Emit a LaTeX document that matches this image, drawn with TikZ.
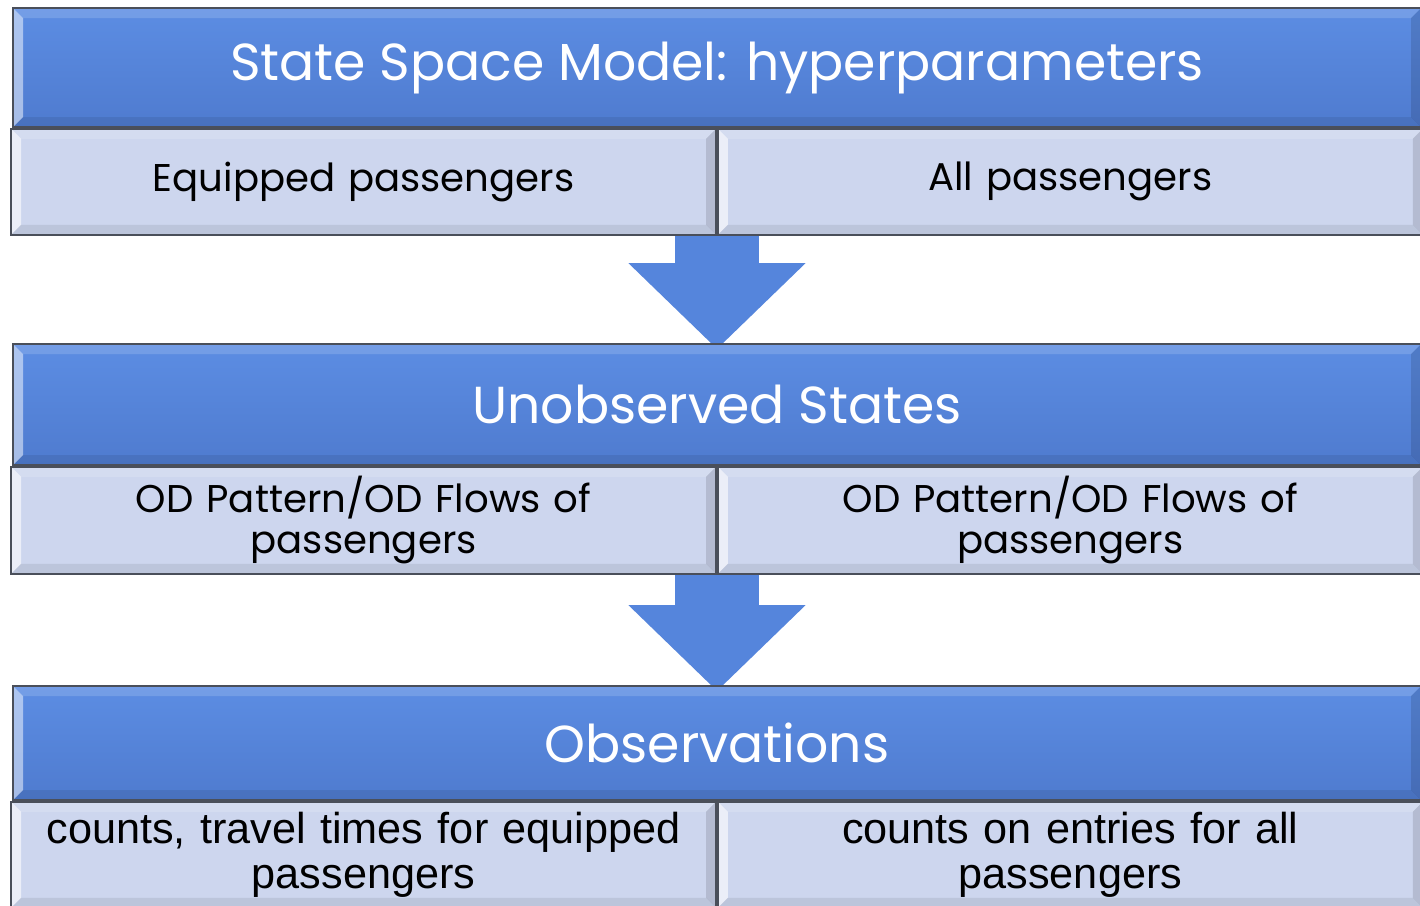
\documentclass[tikz,border=0pt]{standalone}
\usepackage{fontspec}
\setmainfont{Poppins}
\newfontfamily\arialf{Liberation Sans}
\usetikzlibrary{positioning,calc,backgrounds,arrows.meta}
\definecolor{hdrblue}{HTML}{5585DC}
\definecolor{hdrtop}{HTML}{5C8DE3}
\definecolor{hdrbot}{HTML}{4F7BCF}
\definecolor{subfill}{HTML}{CDD6EE}
\definecolor{edgegray}{HTML}{4A4F5A}
\tikzset{
  bevel/.style={path picture={
    \coordinate (sw) at (path picture bounding box.south west);
    \coordinate (ne) at (path picture bounding box.north east);
    \fill[white,opacity=#1] (sw) -- (sw|-ne) -- ++(0.1,-0.1) -- ($(sw)+(0.1,0.1)$) -- cycle;
    \fill[white,opacity=0.15] (sw|-ne) -- (ne) -- ++(-0.1,-0.1) -- ($(sw|-ne)+(0.1,-0.1)$) -- cycle;
    \fill[black,opacity=0.12] (ne) -- (ne|-sw) -- ++(-0.1,0.1) -- ($(ne)+(-0.1,-0.1)$) -- cycle;
    \fill[black,opacity=0.08] (sw) -- (ne|-sw) -- ++(-0.1,0.1) -- ($(sw)+(0.1,0.1)$) -- cycle;
  }},
  header/.style={draw=edgegray, line width=0.5pt, top color=hdrtop, bottom color=hdrbot,
    minimum width=14.08cm, text=white, font=\fontsize{14.8}{17}\selectfont, bevel=0.5},
  subbox/.style={draw=edgegray, line width=0.5pt, fill=subfill, minimum width=7.05cm,
    text width=6.95cm, inner xsep=0.05cm, inner ysep=0pt, align=center,
    font=\fontsize{11}{11.6}\selectfont, bevel=0.6},
  flowarrow/.style={draw=hdrbot!80!black, line width=0.84cm, hdrblue,
    -{Triangle[width'=0pt 2, length=0.86cm]}, shorten >=-0.06cm}
}
\begin{document}
\begin{tikzpicture}
\useasboundingbox (0,0) rectangle (14.2,-9.05);
% state space model
\node[header, minimum height=1.19cm] (ssm) at (7.17,-0.675) {State Space Model: hyperparameters};
\node[subbox, minimum height=1.06cm, anchor=north east] (equip) at (ssm.south) {Equipped passengers};
\node[subbox, minimum height=1.06cm, anchor=north west] (allp) at (ssm.south) {All passengers};
% unobserved states
\node[header, minimum height=1.21cm] (unobs) at (7.17,-4.045) {Unobserved States};
\node[subbox, minimum height=1.07cm, anchor=north east] (odeq) at (unobs.south) {OD Pattern/OD Flows of\\ passengers};
\node[subbox, minimum height=1.07cm, anchor=north west] (odall) at (unobs.south) {OD Pattern/OD Flows of\\ passengers};
% observations
\node[header, minimum height=1.14cm] (obs) at (7.17,-7.43) {Observations};
\node[subbox, minimum height=1.06cm, anchor=north east, font=\arialf\fontsize{12.3}{12.6}\selectfont] (cnteq) at (obs.south) {counts, travel times for equipped\\ passengers};
\node[subbox, minimum height=1.06cm, anchor=north west, font=\arialf\fontsize{12.3}{12.6}\selectfont] (cntall) at (obs.south) {counts on entries for all\\ passengers};
\begin{scope}[on background layer]
\fill[white] (0,0) rectangle (14.2,-9.05);
\draw[flowarrow] (equip.south east) -- (unobs.north);
\draw[flowarrow] (odeq.south east) -- (obs.north);
\end{scope}
\end{tikzpicture}
\end{document}
